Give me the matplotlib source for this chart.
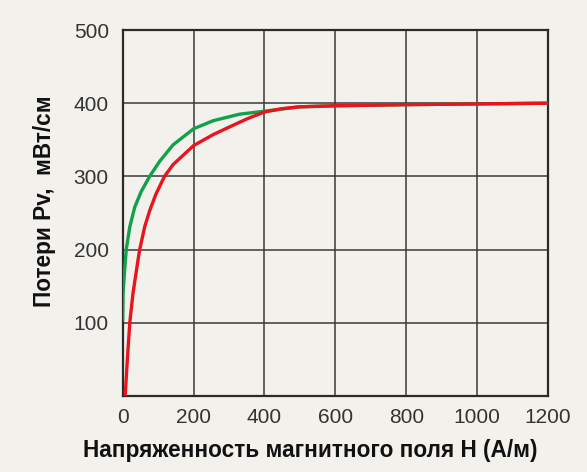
import matplotlib
matplotlib.use("Agg")
import matplotlib.pyplot as plt

# Data
H_green = [0, 1, 5.5, 10, 20, 34, 52, 76, 105, 142, 200, 255, 330, 400, 498, 600, 800, 1000, 1200]
P_green = [102, 140, 172, 200, 231, 258, 279, 300, 321, 343, 365, 376, 385, 389, 395, 396.5, 398, 399, 400]

H_red = [7, 13, 20, 29, 43, 48, 62, 76, 94, 118, 130, 142, 200, 255, 330, 353, 400, 450, 498, 600, 800, 1000, 1200]
P_red = [0, 49, 100, 140, 185, 200, 231, 253, 276, 300, 308, 316, 342, 357, 374, 379, 388, 392.5, 395, 396.5, 398, 399, 400]

x_ticks = [0, 200, 400, 600, 800, 1000, 1200]
y_ticks = [0, 100, 200, 300, 400, 500]
y_tick_labels = ["", "100", "200", "300", "400", "500"]

xlabel = "Напряженность магнитного поля H (A/м)"
ylabel = "Потери Pv,  мВт/см"

plt.rcParams['font.family'] = ['Liberation Sans', 'DejaVu Sans']
bg = '#f2f1ec'

fig = plt.figure(figsize=(5.87, 4.72), dpi=100, facecolor=bg)
ax = fig.add_axes([122.7/587, 1-395.9/472, (548-122.7)/587, (395.9-30)/472])
ax.set_facecolor(bg)

ax.plot(H_green, P_green, color='#12a04a', lw=2.4, solid_joinstyle='round', solid_capstyle='butt', zorder=3)
ax.plot(H_red, P_red, color='#e8141e', lw=2.4, solid_joinstyle='round', solid_capstyle='butt', zorder=4)

ax.set_xlim(0, 1200)
ax.set_ylim(0, 500)
ax.set_xticks(x_ticks)
ax.set_yticks(y_ticks)
ax.set_yticklabels(y_tick_labels)
ax.grid(True, color='#3a3a3a', lw=1.1)
ax.set_axisbelow(True)
for s in ax.spines.values():
    s.set_color('#2a2a2a')
    s.set_linewidth(1.6)
ax.tick_params(length=0, labelsize=15, labelcolor='#333333')
ax.tick_params(axis='y', pad=10)
ax.tick_params(axis='x', pad=9)

fig.text(310/587, 1-451/472, xlabel, ha='center', va='center', fontsize=16.3, fontweight='bold', color='#111111')
fig.text(45/587, 1-201/472, ylabel, ha='center', va='center', rotation=90, fontsize=16.3, fontweight='bold', color='#111111')

fig.savefig('out.png', dpi=100, facecolor=bg)
